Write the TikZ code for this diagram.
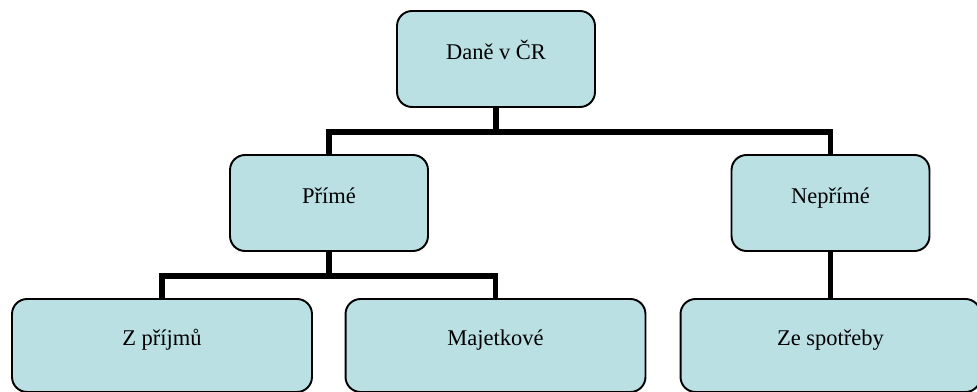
\documentclass[tikz,border=0pt]{standalone}
\usepackage{fontspec}
\setmainfont{Liberation Serif}
\usepackage{xcolor}
\usepackage{tikz}
\usetikzlibrary{positioning,calc}
\definecolor{boxfill}{RGB}{186,224,228}

\begin{document}
\begin{tikzpicture}[x=0.02cm,y=-0.02cm,
    taxbox/.style={draw=black, line width=1.1pt, fill=boxfill, rounded corners=0.3cm,
        minimum width=3.96cm, minimum height=1.92cm, text height=9pt, text depth=9pt,
        font=\fontsize{12.8}{15}\selectfont},
    widebox/.style={taxbox, minimum width=6.0cm, minimum height=1.86cm},
    conn/.style={line width=3.3pt}]
    \clip (0,0) rectangle (977,392);

    % Top
    \node[taxbox] (dane) at (496,59) {Daně v ČR};

    % Second level
    \node[taxbox] (prime) at (329,203) {Přímé};
    \node[taxbox] (neprime) at (830.5,203) {Nepřímé};

    % Third level
    \node[widebox] (prijmy) at (162,345.5) {Z příjmů};
    \node[widebox] (majetek) at (495.5,345.5) {Majetkové};
    \node[widebox] (spotreba) at (830.5,345.5) {Ze spotřeby};

    % Connectors
    \coordinate (barTop) at (496,132);
    \coordinate (barPrime) at (329,276);
    \draw[conn] (dane.south) -- (barTop);
    \draw[conn] (prime.north) |- (barTop) -| (neprime.north);
    \draw[conn] (prime.south) -- (barPrime);
    \draw[conn] (prijmy.north) |- (barPrime) -| (majetek.north);
    \draw[conn] (neprime.south) -- (spotreba.north);
\end{tikzpicture}
\end{document}
